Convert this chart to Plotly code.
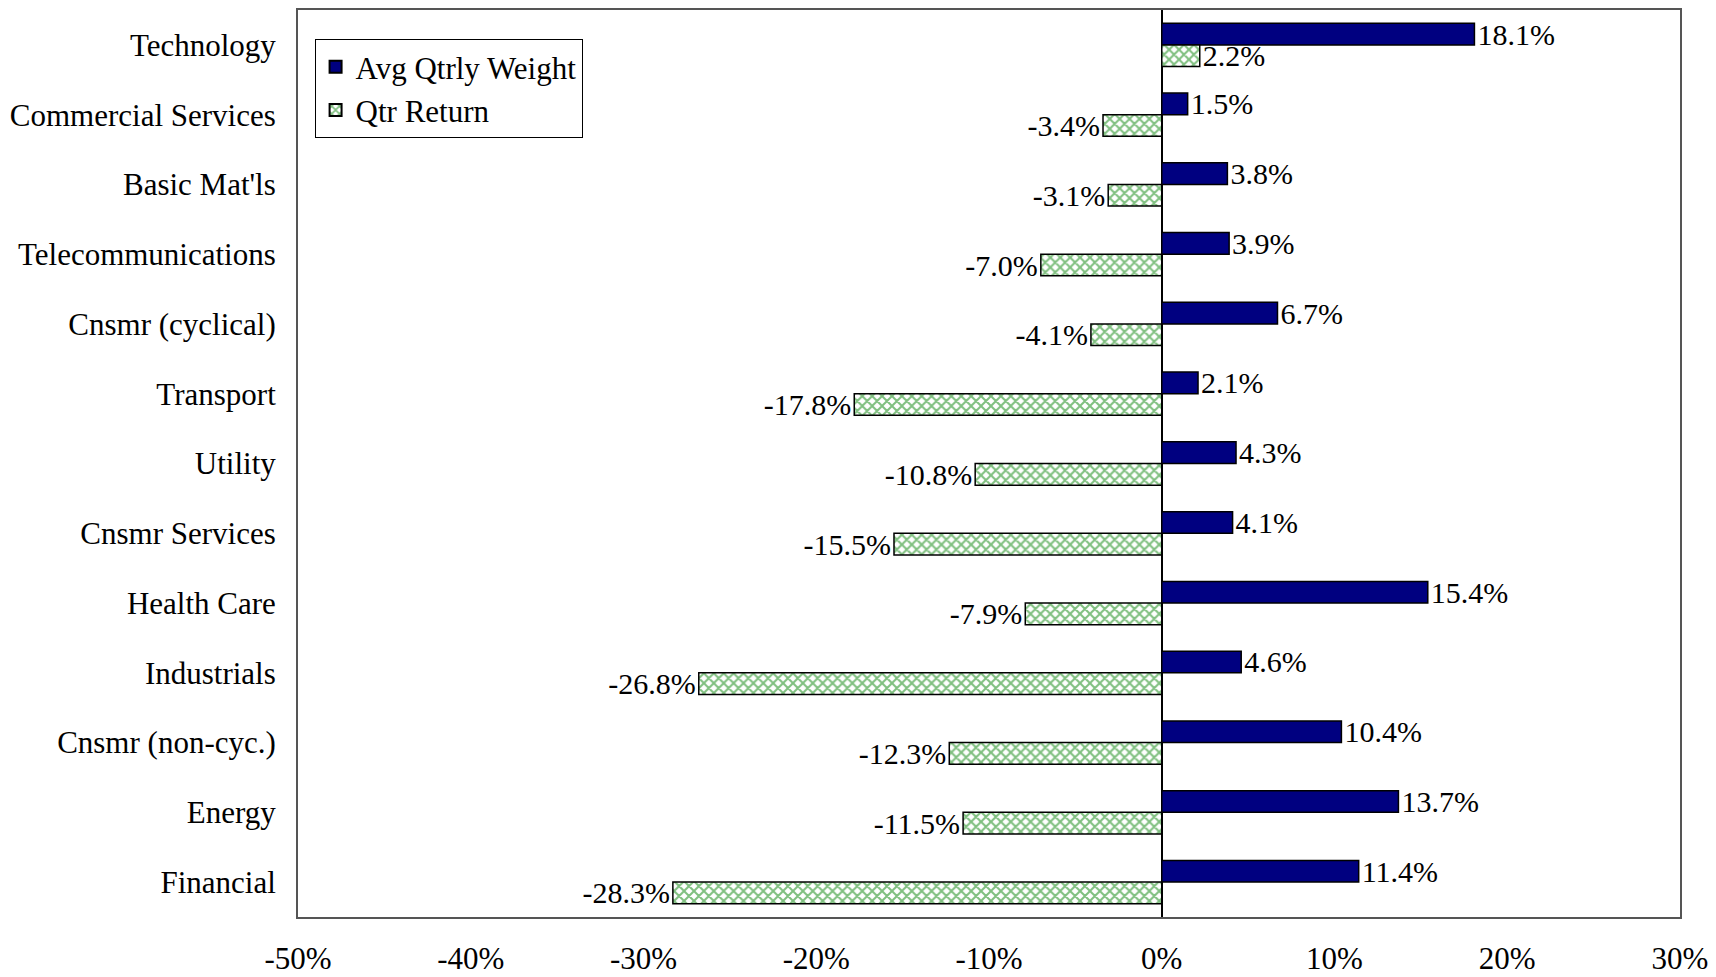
import plotly.graph_objects as go

sectors = ["Technology", "Commercial Services", "Basic Mat'ls", "Telecommunications",
           "Cnsmr (cyclical)", "Transport", "Utility", "Cnsmr Services", "Health Care",
           "Industrials", "Cnsmr (non-cyc.)", "Energy", "Financial"]
avg_weight = [18.1, 1.5, 3.8, 3.9, 6.7, 2.1, 4.3, 4.1, 15.4, 4.6, 10.4, 13.7, 11.4]
qtr_return = [2.2, -3.4, -3.1, -7.0, -4.1, -17.8, -10.8, -15.5, -7.9, -26.8, -12.3, -11.5, -28.3]
x_ticks = [-50, -40, -30, -20, -10, 0, 10, 20, 30]
x_tick_labels = [f"{v}%" for v in x_ticks]

FONT = "Liberation Serif, Times New Roman, serif"
FS = 31
FS_BAR = 30

fig = go.Figure()
fig.add_trace(go.Bar(
    y=sectors, x=avg_weight, orientation="h", name="Avg Qtrly Weight",
    marker=dict(color="#000080", line=dict(color="black", width=1.5)),
    texttemplate="%{x:.1f}%", textposition="outside", cliponaxis=False,
    constraintext="none",
    textfont=dict(family=FONT, size=FS_BAR, color="black"),
))
fig.add_trace(go.Bar(
    y=sectors, x=qtr_return, orientation="h", name="Qtr Return",
    marker=dict(color="white", line=dict(color="black", width=1.5),
                pattern=dict(shape="x", fgcolor="#008000", bgcolor="white",
                             size=7, solidity=0.5)),
    texttemplate="%{x:.1f}%", textposition="outside", cliponaxis=False,
    constraintext="none",
    textfont=dict(family=FONT, size=FS_BAR, color="black"),
))

# page body has an 8px margin, so the figure is sized to fit the window
fig.update_layout(
    width=1708, height=969,
    margin=dict(l=290, r=36, t=2, b=60),
    paper_bgcolor="white", plot_bgcolor="white",
    barmode="group", bargap=0.38, bargroupgap=0.0,
    font=dict(family=FONT, size=FS, color="black"),
    showlegend=True,
    legend=dict(x=0.012, y=0.968, xanchor="left", yanchor="top",
                bordercolor="black", borderwidth=1, bgcolor="white",
                font=dict(family=FONT, size=FS), traceorder="normal",
                itemsizing="constant", tracegroupgap=2),
    xaxis=dict(range=[-50, 30], tickvals=x_ticks, ticktext=x_tick_labels,
               showgrid=False, zeroline=True, zerolinecolor="black", zerolinewidth=1.5,
               showline=True, linecolor="#555555", linewidth=2, mirror=True,
               ticks="", ticklabelstandoff=13, automargin=False,
               tickfont=dict(family=FONT, size=FS)),
    yaxis=dict(autorange="reversed", showgrid=False,
               showline=True, linecolor="#555555", linewidth=2, mirror=True,
               ticks="", ticklabelstandoff=14, automargin=False,
               tickfont=dict(family=FONT, size=FS)),
)

fig.write_html("out.html")
